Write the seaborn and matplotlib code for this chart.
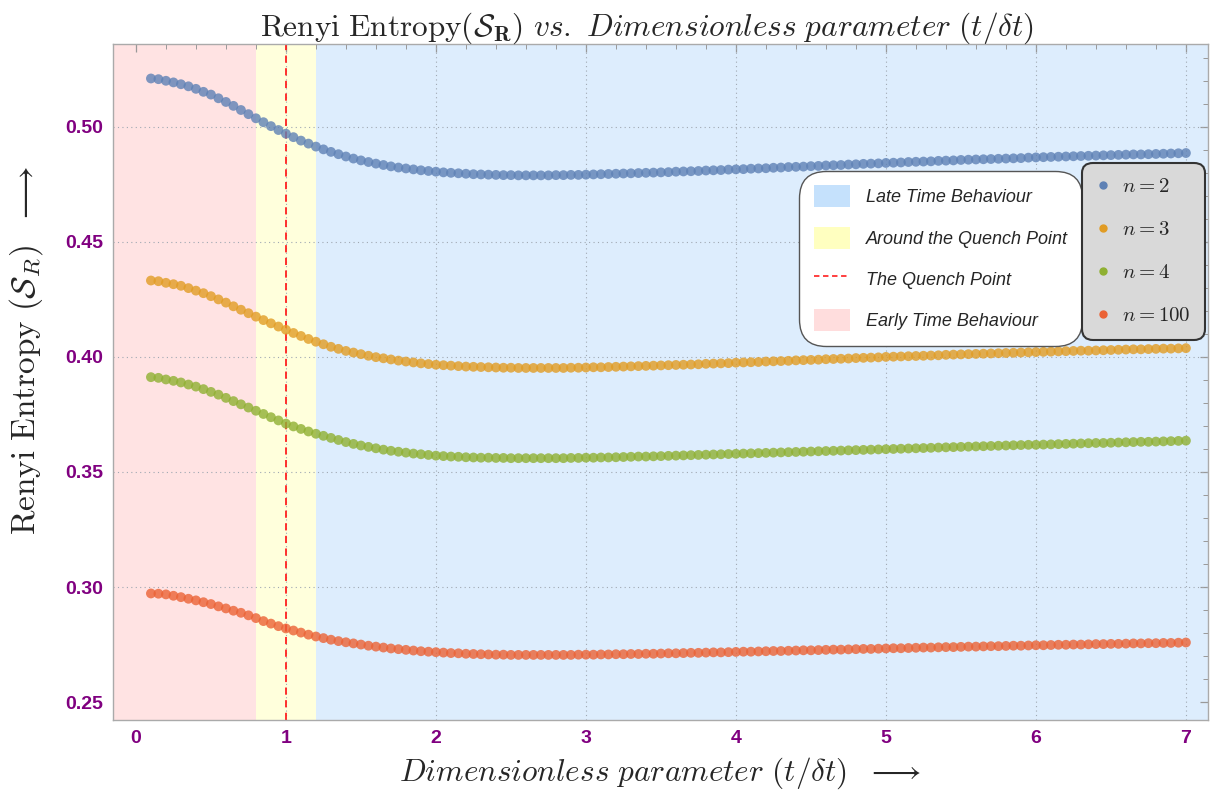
import numpy as np
import pandas as pd
import matplotlib.pyplot as plt
import seaborn as sns
from matplotlib.lines import Line2D
from matplotlib.patches import Patch
from matplotlib.ticker import MultipleLocator

sns.set_theme(style="white")
plt.rcParams['mathtext.fontset'] = 'cm'
plt.rcParams['font.family'] = ['Liberation Sans', 'DejaVu Sans']

# time axis t/dt : 0.10 ... 7.00 in steps of 0.05 (139 points)
t = np.round(np.arange(0.1, 7.0001, 0.05), 2)

# Renyi entropy
s_n2 = [
    0.5210, 0.5207, 0.5200, 0.5193, 0.5185, 0.5176, 0.5165, 0.5152, 0.5140, 0.5124,
    0.5108, 0.5091, 0.5073, 0.5055, 0.5037, 0.5020, 0.5003, 0.4986, 0.4970, 0.4955,
    0.4940, 0.4927, 0.4914, 0.4902, 0.4891, 0.4881, 0.4871, 0.4862, 0.4854, 0.4847,
    0.4840, 0.4834, 0.4828, 0.4823, 0.4819, 0.4815, 0.4811, 0.4808, 0.4805,
    0.4802, 0.4800, 0.4798, 0.4796, 0.4794, 0.4793, 0.4792, 0.4791, 0.4790, 0.4790,
    0.4789, 0.4789, 0.4789, 0.4789, 0.4789, 0.4790, 0.4790, 0.4791, 0.4791, 0.4792,
    0.4793, 0.4794, 0.4795, 0.4796, 0.4797, 0.4798, 0.4799, 0.4800, 0.4801, 0.4802,
    0.4803, 0.4805, 0.4806, 0.4807, 0.4808, 0.4810, 0.4811, 0.4812, 0.4814, 0.4815,
    0.4816, 0.4818, 0.4819, 0.4820, 0.4822, 0.4823, 0.4825, 0.4826, 0.4827, 0.4829,
    0.4830, 0.4832, 0.4833, 0.4834, 0.4836, 0.4837, 0.4839, 0.4840, 0.4841, 0.4843,
    0.4844, 0.4845, 0.4847, 0.4848, 0.4849, 0.4850, 0.4852, 0.4853, 0.4854, 0.4856,
    0.4857, 0.4858, 0.4859, 0.4860, 0.4861, 0.4862, 0.4863, 0.4864, 0.4866, 0.4867,
    0.4868, 0.4869, 0.4870, 0.4871, 0.4872, 0.4873, 0.4874, 0.4875, 0.4876, 0.4877,
    0.4878, 0.4879, 0.4880, 0.4880, 0.4881, 0.4882, 0.4883, 0.4884, 0.4885, 0.4886,
]
s_n3 = [
    0.4332, 0.4329, 0.4322, 0.4316, 0.4309, 0.4299, 0.4288, 0.4277, 0.4264, 0.4250,
    0.4236, 0.4220, 0.4205, 0.4190, 0.4175, 0.4160, 0.4146, 0.4132, 0.4118, 0.4104,
    0.4091, 0.4078, 0.4066, 0.4055, 0.4044, 0.4035, 0.4026, 0.4019, 0.4012, 0.4005,
    0.3999, 0.3994, 0.3989, 0.3984, 0.3980, 0.3976, 0.3972, 0.3969, 0.3966,
    0.3964, 0.3962, 0.3960, 0.3958, 0.3957, 0.3956, 0.3955, 0.3954, 0.3953, 0.3953,
    0.3952, 0.3952, 0.3952, 0.3952, 0.3952, 0.3952, 0.3952, 0.3953, 0.3953, 0.3954,
    0.3955, 0.3955, 0.3956, 0.3957, 0.3958, 0.3959, 0.3960, 0.3961, 0.3962, 0.3963,
    0.3964, 0.3965, 0.3966, 0.3967, 0.3968, 0.3970, 0.3971, 0.3972, 0.3973, 0.3975,
    0.3976, 0.3977, 0.3978, 0.3980, 0.3981, 0.3982, 0.3983, 0.3985, 0.3986, 0.3987,
    0.3988, 0.3990, 0.3991, 0.3992, 0.3993, 0.3995, 0.3996, 0.3997, 0.3998, 0.4000,
    0.4001, 0.4002, 0.4003, 0.4004, 0.4005, 0.4006, 0.4007, 0.4009, 0.4010, 0.4011,
    0.4012, 0.4013, 0.4014, 0.4015, 0.4016, 0.4017, 0.4018, 0.4019, 0.4020, 0.4021,
    0.4022, 0.4023, 0.4024, 0.4025, 0.4026, 0.4027, 0.4027, 0.4028, 0.4029, 0.4030,
    0.4031, 0.4032, 0.4033, 0.4033, 0.4034, 0.4035, 0.4036, 0.4036, 0.4037, 0.4038,
]
s_n4 = [
    0.3912, 0.3909, 0.3902, 0.3896, 0.3889, 0.3880, 0.3871, 0.3860, 0.3848, 0.3836,
    0.3822, 0.3808, 0.3794, 0.3780, 0.3766, 0.3752, 0.3738, 0.3724, 0.3710, 0.3698,
    0.3687, 0.3676, 0.3666, 0.3657, 0.3648, 0.3639, 0.3630, 0.3622, 0.3615, 0.3609,
    0.3603, 0.3597, 0.3592, 0.3588, 0.3584, 0.3580, 0.3577, 0.3574, 0.3571,
    0.3569, 0.3567, 0.3566, 0.3564, 0.3563, 0.3562, 0.3562, 0.3561, 0.3561, 0.3560,
    0.3560, 0.3560, 0.3560, 0.3560, 0.3560, 0.3560, 0.3560, 0.3561, 0.3561, 0.3562,
    0.3562, 0.3563, 0.3563, 0.3564, 0.3565, 0.3566, 0.3567, 0.3567, 0.3568, 0.3569,
    0.3570, 0.3571, 0.3572, 0.3573, 0.3574, 0.3575, 0.3576, 0.3577, 0.3578, 0.3579,
    0.3580, 0.3581, 0.3582, 0.3583, 0.3584, 0.3585, 0.3586, 0.3587, 0.3588, 0.3589,
    0.3590, 0.3591, 0.3592, 0.3593, 0.3594, 0.3595, 0.3596, 0.3597, 0.3598, 0.3599,
    0.3600, 0.3601, 0.3602, 0.3603, 0.3604, 0.3605, 0.3606, 0.3607, 0.3608, 0.3609,
    0.3610, 0.3611, 0.3612, 0.3613, 0.3614, 0.3615, 0.3616, 0.3617, 0.3618, 0.3618,
    0.3619, 0.3620, 0.3621, 0.3622, 0.3623, 0.3624, 0.3625, 0.3626, 0.3626, 0.3627,
    0.3628, 0.3629, 0.3630, 0.3631, 0.3631, 0.3632, 0.3633, 0.3634, 0.3635, 0.3636,
]
s_n100 = [
    0.2972, 0.2971, 0.2968, 0.2962, 0.2956, 0.2949, 0.2942, 0.2934, 0.2926, 0.2916,
    0.2907, 0.2897, 0.2888, 0.2877, 0.2865, 0.2852, 0.2841, 0.2830, 0.2820, 0.2811,
    0.2802, 0.2793, 0.2785, 0.2778, 0.2771, 0.2765, 0.2760, 0.2755, 0.2750, 0.2745,
    0.2741, 0.2737, 0.2733, 0.2730, 0.2727, 0.2724, 0.2721, 0.2719, 0.2717,
    0.2715, 0.2713, 0.2712, 0.2710, 0.2709, 0.2708, 0.2707, 0.2706, 0.2706, 0.2705,
    0.2705, 0.2705, 0.2705, 0.2705, 0.2705, 0.2705, 0.2705, 0.2705, 0.2706, 0.2706,
    0.2706, 0.2707, 0.2707, 0.2708, 0.2708, 0.2709, 0.2709, 0.2710, 0.2710, 0.2711,
    0.2712, 0.2712, 0.2713, 0.2714, 0.2714, 0.2715, 0.2716, 0.2716, 0.2717, 0.2718,
    0.2719, 0.2719, 0.2720, 0.2721, 0.2722, 0.2722, 0.2723, 0.2724, 0.2725, 0.2725,
    0.2726, 0.2727, 0.2728, 0.2728, 0.2729, 0.2730, 0.2731, 0.2731, 0.2732, 0.2733,
    0.2734, 0.2734, 0.2735, 0.2736, 0.2737, 0.2737, 0.2738, 0.2739, 0.2739, 0.2740,
    0.2741, 0.2741, 0.2742, 0.2743, 0.2743, 0.2744, 0.2745, 0.2745, 0.2746, 0.2747,
    0.2747, 0.2748, 0.2749, 0.2749, 0.2750, 0.2750, 0.2751, 0.2752, 0.2752, 0.2753,
    0.2753, 0.2754, 0.2755, 0.2755, 0.2756, 0.2756, 0.2757, 0.2757, 0.2758, 0.2759,
]

n_labels = ["n = 2", "n = 3", "n = 4", "n = 100"]
n_tex = [r"$n = 2$", r"$n = 3$", r"$n = 4$", r"$n = 100$"]
colors = ["#5E81B5", "#E19C24", "#8FB032", "#EB6235"]

# regions
early_end = 0.8
quench = 1.0
late_start = 1.2

df = pd.DataFrame({
    "t": np.tile(t, 4),
    "S": s_n2 + s_n3 + s_n4 + s_n100,
    "n": np.repeat(n_labels, len(t)),
})

fig = plt.figure(figsize=(12.11, 7.95), dpi=100)
ax = fig.add_axes([0.0933, 0.0943, 0.9042, 0.8504])

xmin, xmax = -0.153, 7.147
ax.axvspan(xmin, early_end, color="#FFE3E3", lw=0, zorder=0)
ax.axvspan(early_end, late_start, color="#FFFFDC", lw=0, zorder=0)
ax.axvspan(late_start, xmax, color="#DDEDFD", lw=0, zorder=0)

for gx in range(1, 8):
    ax.axvline(gx, color="#A0A8B2", lw=0.8, ls=(0, (1, 3)), zorder=1)
for gy in [0.30, 0.35, 0.40, 0.45, 0.50]:
    ax.axhline(gy, color="#A0A8B2", lw=0.8, ls=(0, (1, 3)), zorder=1)

ax.axvline(quench, color="#FF2020", lw=1.3, ls=(0, (4, 3)), zorder=2)

sns.scatterplot(data=df, x="t", y="S", hue="n", palette=dict(zip(n_labels, colors)),
                s=50, alpha=0.8, linewidth=0, legend=False, ax=ax, zorder=3)

ax.set_xlim(xmin, xmax)
ax.set_ylim(0.2422, 0.536)

ax.xaxis.set_major_locator(MultipleLocator(1))
ax.xaxis.set_minor_locator(MultipleLocator(0.2))
ax.yaxis.set_major_locator(MultipleLocator(0.05))
ax.yaxis.set_minor_locator(MultipleLocator(0.01))
ax.yaxis.set_major_formatter(plt.FormatStrFormatter("%.2f"))
ax.tick_params(which="both", direction="in", top=True, right=True, color="#999999")
ax.tick_params(which="major", length=6, width=0.9, pad=7, labelsize=14, labelcolor="#800080")
ax.tick_params(which="minor", length=3.5, width=0.7)
for lab in ax.get_xticklabels() + ax.get_yticklabels():
    lab.set_fontweight("bold")
for sp in ax.spines.values():
    sp.set_color("#AAAAAA")
    sp.set_linewidth(1.0)

ax.set_title(r"$\mathrm{Renyi\ Entropy}(\mathcal{S}_{\mathbf{R}})\ vs.\ Dimensionless\ parameter\ (t/\delta t)$",
             fontsize=22.5, pad=6, x=0.488)
ax.set_xlabel(r"$Dimensionless\ parameter\ (t/\delta t)\ \ \longrightarrow$", fontsize=22.5, labelpad=6)
ax.set_ylabel(r"$\mathrm{Renyi\ Entropy}\ (\mathcal{S}_R)\ \ \longrightarrow$", fontsize=24)
ax.yaxis.set_label_coords(-0.062, 0.547)

# region legend
region_handles = [
    Patch(facecolor="#C5E1FC", edgecolor="none"),
    Patch(facecolor="#FFFFC0", edgecolor="none"),
    Line2D([0], [0], color="#FF3030", lw=1.3, ls=(0, (3, 2))),
    Patch(facecolor="#FFDDDD", edgecolor="none"),
]
region_labels = ["Late Time Behaviour", "Around the Quench Point", "The Quench Point", "Early Time Behaviour"]
leg1 = ax.legend(region_handles, region_labels, loc="upper left", bbox_to_anchor=(0.630, 0.807),
                 prop={"style": "italic", "size": 13}, labelspacing=1.07, handlelength=2.0,
                 handleheight=1.5, handletextpad=0.9, borderpad=0.6, borderaxespad=0,
                 frameon=True, fancybox=True, framealpha=1)
f1 = leg1.get_frame()
f1.set_facecolor("white")
f1.set_edgecolor("#555555")
f1.set_linewidth(1.0)
f1.set_boxstyle("round,pad=0.2,rounding_size=1.5")
ax.add_artist(leg1)

# series legend
n_handles = [Line2D([0], [0], marker="o", ls="none", color=c, markersize=5) for c in colors]
leg2 = ax.legend(n_handles, n_tex, loc="upper left", bbox_to_anchor=(0.889, 0.818),
                 fontsize=15, labelspacing=1.15, handlelength=0.6, handletextpad=0.6,
                 borderpad=0.5, borderaxespad=0, frameon=True, fancybox=True, framealpha=1)
f2 = leg2.get_frame()
f2.set_facecolor("#D9D9D9")
f2.set_edgecolor("#333333")
f2.set_linewidth(1.5)
f2.set_boxstyle("round,pad=0.2,rounding_size=0.5")

fig.savefig("out.png", dpi=100)
